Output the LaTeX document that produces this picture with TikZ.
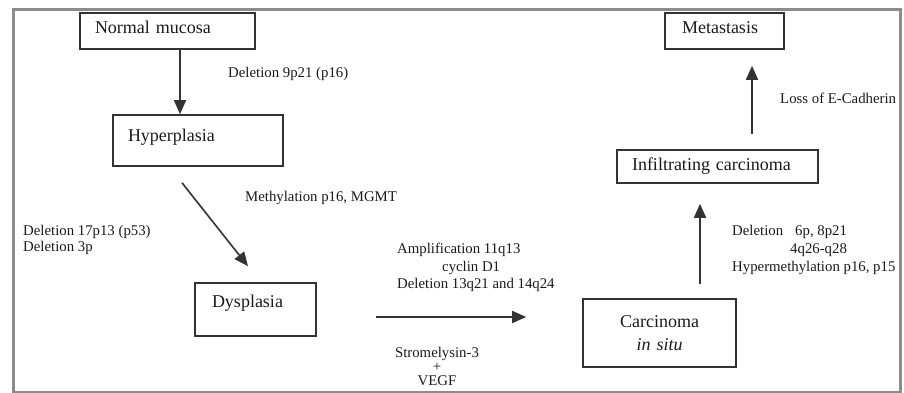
\documentclass[tikz,border=0pt]{standalone}
\usepackage{fontspec}
\setmainfont{Liberation Serif}
\usetikzlibrary{arrows.meta}
\definecolor{framegray}{HTML}{8C8C8C}
\definecolor{linegray}{HTML}{333333}
\definecolor{textgray}{HTML}{1A1A1A}
\tikzset{
  stagebox/.style={draw=linegray, line width=1.6pt, text=textgray, font=\fontsize{18}{21}\selectfont,
    align=left, inner ysep=0pt},
  steparrow/.style={draw=linegray, line width=1.6pt, -{Triangle[length=14pt,width=12pt]}},
  smalltext/.style={text=textgray, font=\fontsize{14.8}{17.5}\selectfont, inner sep=0pt},
}
\begin{document}
\begin{tikzpicture}[x=1pt,y=-1pt]
\useasboundingbox (0,0) rectangle (904,393);
\draw[framegray, line width=3pt] (13,10) rectangle (900,392);

% stage boxes
\node[stagebox, text width=145pt, inner xsep=15pt, minimum height=36pt, text height=12pt, text depth=6pt] (normal) at (167.5,31) {Normal mucosa};
\node[stagebox, text width=140pt, inner xsep=15pt, minimum height=51pt, text height=12pt, text depth=11pt] (hyper) at (198,140.5) {Hyperplasia};
\node[stagebox, text width=87pt, inner xsep=17pt, minimum height=53pt, text height=12pt, text depth=16pt] (dys) at (255.5,309.5) {Dysplasia};
\node[stagebox, text width=153pt, inner xsep=0pt, minimum height=68pt, align=center] (carc) at (659.5,333) {Carcinoma\\[2pt]\textit{in situ}};
\node[stagebox, text width=171pt, inner xsep=15pt, minimum height=33pt, text height=12pt, text depth=5pt] (infil) at (717.5,166.5) {Infiltrating carcinoma};
\node[stagebox, text width=85pt, inner xsep=17pt, minimum height=36pt, text height=12pt, text depth=6pt] (meta) at (724.5,31) {Metastasis};

% connectors
\draw[steparrow] ([xshift=12.5pt]normal.south) -- ([xshift=-18pt]hyper.north);
\draw[steparrow] ([shift={(-16,16)}]hyper.south) -- ([shift={(-7.5,-16)}]dys.north);
\draw[steparrow] ([shift={(59,7.5)}]dys.east) -- ([shift={(-56,-16)}]carc.west);
\draw[steparrow] ([shift={(40.5,-14)}]carc.north) -- ([shift={(-17.5,20)}]infil.south);
\draw[steparrow] ([shift={(34.5,-15)}]infil.north) -- ([shift={(27.5,16)}]meta.south);

% labels
\node[smalltext, anchor=west] (l1) at (228,74) {Deletion 9p21 (p16)};
\node[smalltext, anchor=west] (l2) at (245,198) {Methylation p16, MGMT};
\node[smalltext, anchor=west, align=left, font=\fontsize{14.8}{16}\selectfont] (l3) at (23,240) {Deletion 17p13 (p53)\\Deletion 3p};
\node[smalltext, anchor=west, align=left] (l4) at (397,267.5) {Amplification 11q13\\\hspace*{45pt}cyclin D1\\Deletion 13q21 and 14q24};
\node[smalltext, align=center, font=\fontsize{14.8}{14}\selectfont] (l5) at (437,366) {Stromelysin-3\\+\\VEGF};
\node[smalltext, anchor=west, align=left, font=\fontsize{14.8}{18}\selectfont] (l6) at (732,250) {\makebox[63pt][l]{Deletion}6p, 8p21\\\hspace*{58pt}4q26-q28\\Hypermethylation p16, p15};
\node[smalltext, anchor=west] (l7) at (780,98) {Loss of E-Cadherin};
\end{tikzpicture}
\end{document}
